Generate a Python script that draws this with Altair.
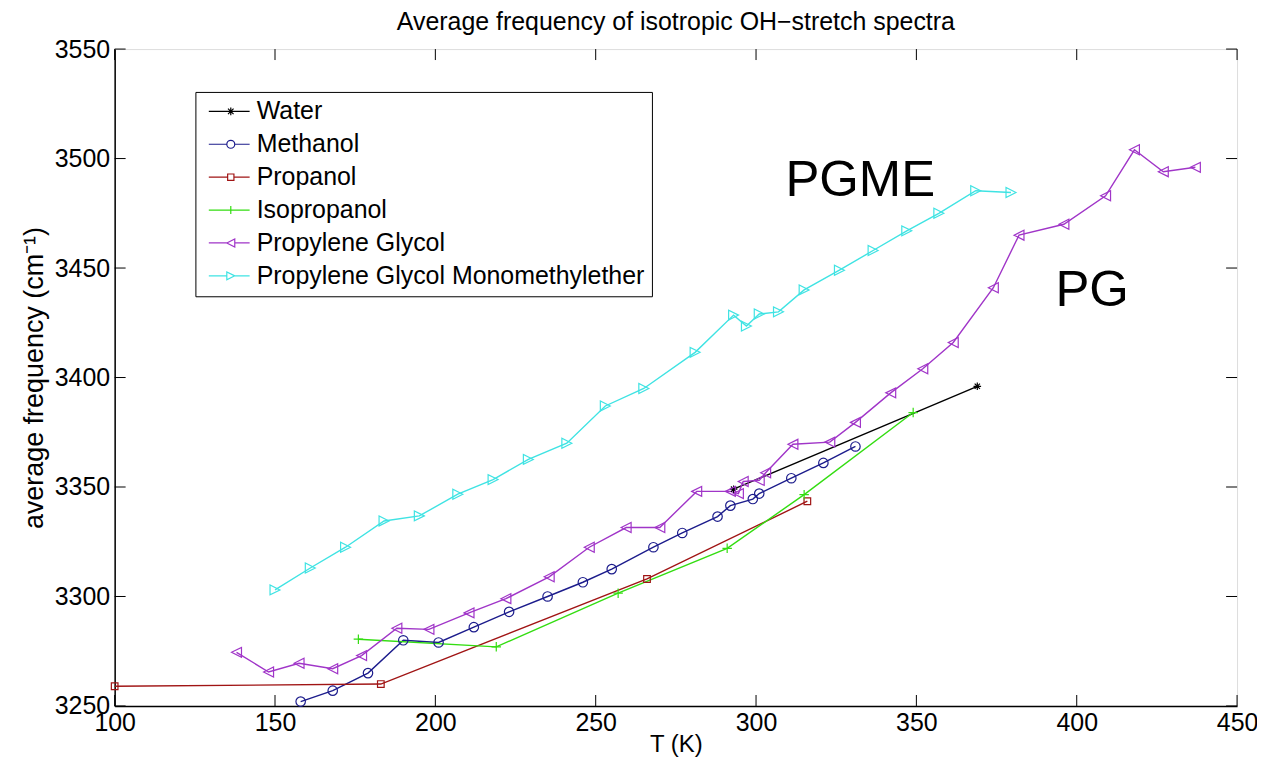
import altair as alt
import pandas as pd

# ---------------- data ----------------
series = ["Water", "Methanol", "Propanol", "Isopropanol",
          "Propylene Glycol", "Propylene Glycol Monomethylether"]
colors = ["#000000", "#1c1c8c", "#a01414", "#33dd11", "#a035c8", "#3fe3e3"]

water_T = [293, 369]
water_v = [3349, 3396]

methanol_T = [158, 168, 179, 190, 201, 212, 223, 235, 246, 255, 268, 277,
              288, 292, 299, 301, 311, 321, 331]
methanol_v = [3252, 3257, 3265, 3280, 3279, 3286, 3293, 3300, 3306.5, 3312.5,
              3322.5, 3329, 3336.5, 3341.5, 3344.5, 3347, 3354, 3361, 3368.5]

propanol_T = [100, 183, 266, 316]
propanol_v = [3259, 3260, 3308, 3343.5]

isopropanol_T = [176, 219, 257, 291, 315, 349]
isopropanol_v = [3280.5, 3277, 3301.5, 3322, 3346.5, 3384]

pg_T = [138, 148, 157.5, 168, 177, 188, 198, 210.5, 222, 235.5, 248, 259.5,
        270, 281.5, 292, 294.5, 296, 301, 303, 311.5, 323, 331, 342, 352,
        361.5, 374, 382, 396, 409, 418, 427, 437]
pg_v = [3274.5, 3265.5, 3269.5, 3267, 3273, 3285.5, 3285, 3292.5, 3299, 3309,
        3322.5, 3331.5, 3331.5, 3348, 3348, 3347, 3352.5, 3353, 3356.5, 3369.5,
        3370.5, 3379.5, 3393, 3404, 3416, 3441, 3465, 3470, 3483, 3504, 3494,
        3496]

pgme_T = [150, 161, 172, 184, 195, 207, 218, 229, 241, 253, 265, 281, 293,
          297, 301, 307, 315, 326, 336.5, 347, 357, 368.5, 379.5]
pgme_v = [3303, 3313, 3322.5, 3334.5, 3336.8, 3346.7, 3353.4, 3362.6, 3370,
          3387, 3395, 3411.5, 3428.5, 3423.5, 3429, 3430, 3440, 3449, 3458,
          3467, 3475, 3485.3, 3484.5]

x_ticks = [100, 150, 200, 250, 300, 350, 400, 450]
y_ticks = [3250, 3300, 3350, 3400, 3450, 3500, 3550]

ann_text = ["PGME", "PG"]
ann_T = [332.5, 404.8]
ann_v = [3482.8, 3432.7]

# marker shapes (plot) and legend symbols (line + marker)
marker_paths = [
    "M-0.8,0H0.8M0,-0.8V0.8M-0.56,-0.56L0.56,0.56M-0.56,0.56L0.56,-0.56",
    "M-1,0A1,1 0 1,0 1,0A1,1 0 1,0 -1,0Z",
    "M-0.7,-0.7H0.7V0.7H-0.7Z",
    "M-1,0H1M0,-1V1",
    "M-1.05,0L1.05,-1.05L1.05,1.05Z",
    "M1.05,0L-1.05,-1.05L-1.05,1.05Z",
]
L = 3.15   # left half length of legend line sample (symbol units)
R = 2.7    # right half length
m = 0.57   # legend marker half size
d = round(m * 0.7, 3)
legend_paths = [
    f"M-{L},0H{R}M0,-{m}V{m}M-{d},-{d}L{d},{d}M-{d},{d}L{d},-{d}",
    f"M-{L},0H-{m}M{m},0H{R}M-{m},0A{m},{m} 0 1,0 {m},0A{m},{m} 0 1,0 -{m},0",
    f"M-{L},0H-0.45M0.45,0H{R}M-0.45,-0.45H0.45V0.45H-0.45Z",
    f"M-{L},0H{R}M0,-{m}V{m}",
    f"M-{L},0H-{m}M{m},0H{R}M-{m},0L{m},-{m}L{m},{m}Z",
    f"M-{L},0H-{m}M{m},0H{R}M{m},0L-{m},-{m}L-{m},{m}Z",
]

rows = []
for name, T, V in zip(series,
                      [water_T, methanol_T, propanol_T, isopropanol_T, pg_T, pgme_T],
                      [water_v, methanol_v, propanol_v, isopropanol_v, pg_v, pgme_v]):
    for t, v in zip(T, V):
        rows.append({"series": name, "T": t, "freq": v})
df = pd.DataFrame(rows)

W, H = 1126, 659
FONT = "Liberation Sans"
TICK = 11

xs = alt.Scale(domain=[100, 450], nice=False, zero=False)
ys = alt.Scale(domain=[3250, 3550], nice=False, zero=False)
cs = alt.Scale(domain=series, range=colors)

x_axis = alt.Axis(values=x_ticks, format="d", tickSize=0, labelFontSize=25,
                  labelFont=FONT, labelColor="black", labelPadding=5,
                  title="T (K)", titleFontSize=24, titleFont=FONT,
                  titleFontWeight="normal", titleColor="black", titlePadding=-3,
                  grid=False, domain=True, domainColor="black", domainWidth=1.5,
                  labelFlush=False)
y_axis = alt.Axis(values=y_ticks, format="d", tickSize=0, labelFontSize=25,
                  labelFont=FONT, labelColor="black", labelPadding=5,
                  title="average frequency (cm\u207b\u00b9)",
                  titleFontSize=27, titleFont=FONT, titleFontWeight="normal",
                  titleColor="black", titlePadding=6, grid=False, domain=True,
                  domainColor="black", domainWidth=1.5, labelFlush=False)

legend_spec = alt.Legend(
    title=None, orient="none", legendX=81, legendY=43,
    strokeColor="black", fillColor="white", padding=7,
    labelFontSize=25, labelFont=FONT, labelColor="black",
    symbolSize=196, symbolStrokeWidth=1.2, symbolOpacity=1,
    symbolOffset=16, labelOffset=13.5,
    rowPadding=7, labelLimit=600)

base = alt.Chart(df)

lines = base.mark_line(strokeWidth=1.4).encode(
    x=alt.X("T:Q", scale=xs, axis=x_axis),
    y=alt.Y("freq:Q", scale=ys, axis=y_axis),
    color=alt.Color("series:N", scale=cs, legend=None),
    detail="series:N",
)

points = base.mark_point(filled=False, size=90, strokeWidth=1.2, opacity=1).encode(
    x=alt.X("T:Q", scale=xs, axis=x_axis),
    y=alt.Y("freq:Q", scale=ys, axis=y_axis),
    color=alt.Color("series:N", scale=cs, legend=None),
    shape=alt.Shape("series:N", scale=alt.Scale(domain=series, range=marker_paths),
                    legend=None),
)

legend_layer = base.mark_point(filled=False, opacity=0, strokeWidth=1.2).encode(
    x=alt.X("T:Q", scale=xs, axis=x_axis),
    y=alt.Y("freq:Q", scale=ys, axis=y_axis),
    color=alt.Color("series:N", scale=cs, sort=series, legend=legend_spec),
    shape=alt.Shape("series:N", scale=alt.Scale(domain=series, range=legend_paths),
                    sort=series, legend=legend_spec),
)

tdf = pd.DataFrame({"T": x_ticks})
ydf = pd.DataFrame({"freq": y_ticks})
tick_b = alt.Chart(tdf).mark_rule(color="black", strokeWidth=1).encode(
    x=alt.X("T:Q", scale=xs, axis=x_axis), y=alt.value(H), y2=alt.value(H - TICK))
tick_t = alt.Chart(tdf).mark_rule(color="black", strokeWidth=1).encode(
    x=alt.X("T:Q", scale=xs, axis=x_axis), y=alt.value(0), y2=alt.value(TICK))
tick_l = alt.Chart(ydf).mark_rule(color="black", strokeWidth=1).encode(
    y=alt.Y("freq:Q", scale=ys, axis=y_axis), x=alt.value(0), x2=alt.value(TICK))
tick_r = alt.Chart(ydf).mark_rule(color="black", strokeWidth=1).encode(
    y=alt.Y("freq:Q", scale=ys, axis=y_axis), x=alt.value(W), x2=alt.value(W - TICK))

adf = pd.DataFrame({"label": ann_text, "T": ann_T, "freq": ann_v})
ann = alt.Chart(adf).mark_text(fontSize=51, font=FONT, color="black",
                               align="center", baseline="alphabetic").encode(
    x=alt.X("T:Q", scale=xs, axis=x_axis), y=alt.Y("freq:Q", scale=ys, axis=y_axis),
    text="label:N")

chart = alt.layer(
    lines, points, legend_layer, tick_b, tick_t, tick_l, tick_r, ann
).resolve_scale(shape="independent", color="independent").properties(
    width=W, height=H,
    autosize=alt.AutoSizeParams(type="none"),
    padding={"left": 107, "top": 40, "right": 20, "bottom": 53},
    title=alt.TitleParams("Average frequency of isotropic OH\u2212stretch spectra",
                          fontSize=25, font=FONT, fontWeight="normal",
                          color="black", offset=2, anchor="middle"),
).configure_view(stroke="black", strokeWidth=2, strokeOpacity=1).configure(background="white")

chart.save("out.html", embed_options={"renderer": "svg", "actions": False})
